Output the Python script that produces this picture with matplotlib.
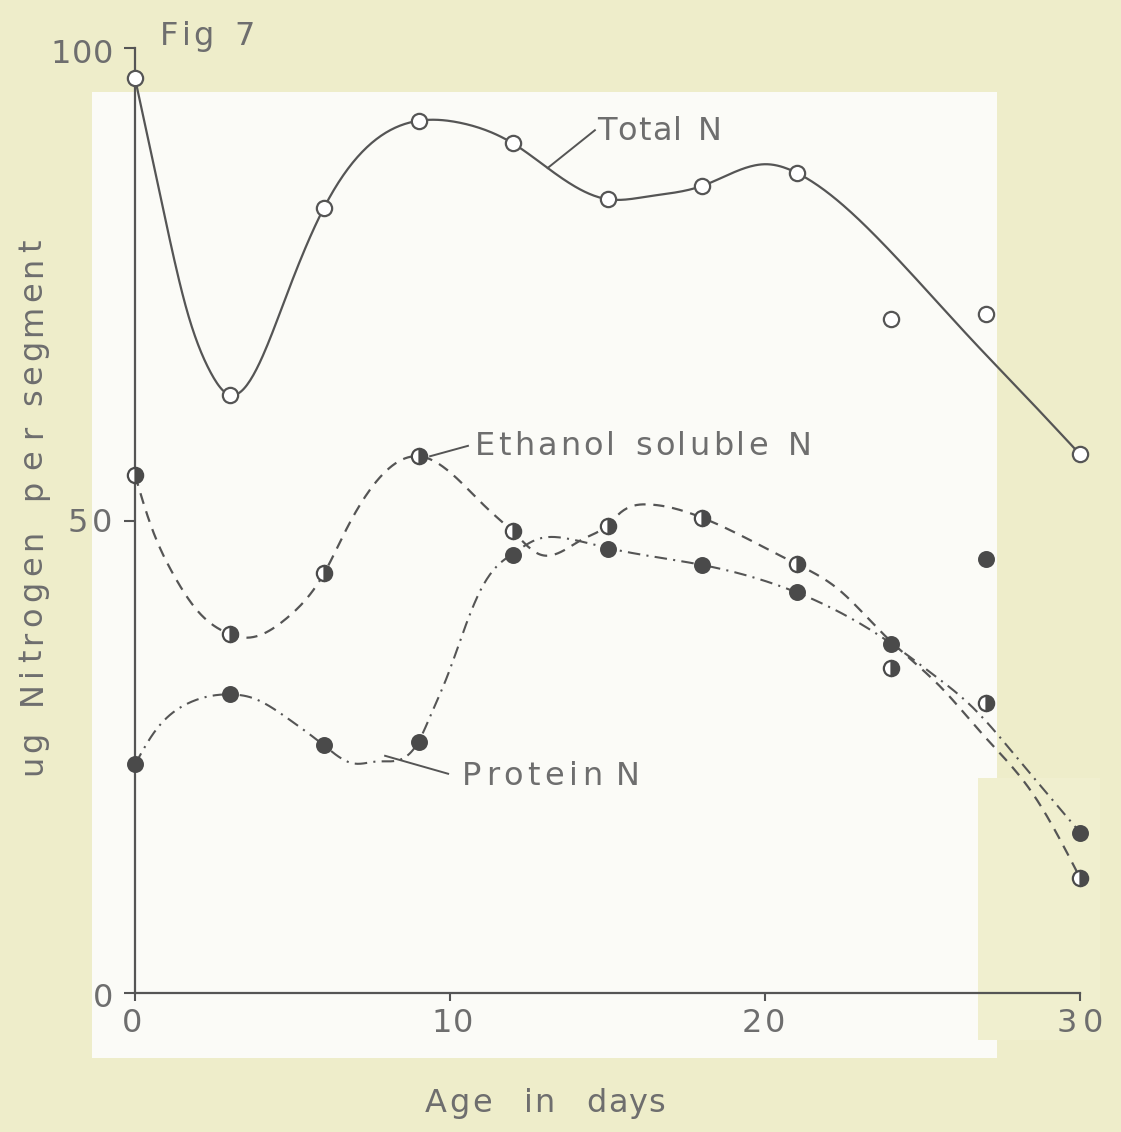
import numpy as np
import matplotlib
matplotlib.use("Agg")
from matplotlib import pyplot as plt
from matplotlib.patches import Rectangle

# ages at which samples were taken
ages = [0, 3, 6, 9, 12, 15, 18, 21, 24, 27, 30]

# measured points (ug N per segment)
total_n = [96.8, 63.3, 83.1, 92.3, 89.9, 84.0, 85.4, 86.8, 71.3, 71.9, 57.0]
ethanol_n = [54.8, 38.0, 44.4, 56.8, 48.9, 49.4, 50.3, 45.4, 34.4, 30.7, 12.2]
protein_n = [24.2, 31.6, 26.2, 26.6, 46.4, 47.0, 45.3, 42.4, 36.9, 45.9, 16.9]

# hand drawn curves
total_curve_x = [0, 0.57, 1.02, 1.65, 2.38, 3, 3.87, 4.83, 6, 7.24, 9, 10.3, 12,
                 13.1, 15, 16.3, 18, 20.06, 21, 23.6, 26.6, 28.2, 30]
total_curve_y = [96.8, 88.0, 81.0, 72.2, 65.8, 63.3, 66.1, 74.0, 83.1, 89.1, 92.3,
                 92.1, 89.9, 87.3, 84.0, 84.3, 85.4, 87.7, 86.8, 79.8, 69.0, 63.4, 57.0]

ethanol_curve_x = [0, 0.48, 1.2, 1.97, 3, 3.56, 4.83, 6, 6.73, 7.68, 9, 10.3, 11.27,
                   12, 12.86, 13.7, 14.2, 15, 15.4, 16.3, 18, 19.6, 21, 22.3, 23.75,
                   24.8, 25.6, 26.9, 28.5, 30]
ethanol_curve_y = [54.8, 49.7, 44.4, 40.5, 38.0, 37.6, 39.7, 44.4, 49.2, 54.2, 56.8,
                   54.2, 51.0, 48.8, 46.4, 47.0, 48.0, 49.5, 50.8, 51.7, 50.3, 47.8,
                   45.4, 42.8, 38.0, 34.8, 32.3, 27.4, 21.1, 12.2]

protein_curve_x = [0, 0.57, 1.65, 3, 3.75, 4.83, 6, 6.92, 7.68, 9, 9.4, 9.9, 10.4,
                   10.95, 11.5, 12, 12.76, 13.7, 15, 18, 21, 22.7, 24, 25.3, 26.6,
                   28.0, 30]
protein_curve_y = [24.2, 27.4, 30.6, 31.6, 31.2, 29.1, 26.2, 24.3, 24.5, 26.6, 29.5,
                   33.4, 38.0, 42.5, 45.2, 46.5, 48.0, 48.1, 47.1, 45.3, 42.4, 39.7,
                   37.0, 33.8, 30.2, 24.9, 17.0]

W, H = 1121, 1132
ink = '#555555'
text_col = '#6e6e6e'
font = 'DejaVu Sans'

fig = plt.figure(figsize=(W / 100, H / 100), dpi=100, facecolor='#eeedca')
renderer = fig.canvas.get_renderer()


def spline(xs, ys, n=600):
    # natural cubic spline through the knots
    x = np.asarray(xs, float)
    y = np.asarray(ys, float)
    m = len(x)
    h = np.diff(x)
    A = np.zeros((m, m))
    r = np.zeros(m)
    A[0, 0] = A[-1, -1] = 1
    for i in range(1, m - 1):
        A[i, i - 1] = h[i - 1]
        A[i, i] = 2 * (h[i - 1] + h[i])
        A[i, i + 1] = h[i]
        r[i] = 3 * ((y[i + 1] - y[i]) / h[i] - (y[i] - y[i - 1]) / h[i - 1])
    c = np.linalg.solve(A, r)
    b = (y[1:] - y[:-1]) / h - h * (2 * c[:-1] + c[1:]) / 3
    d = (c[1:] - c[:-1]) / (3 * h)
    xx = np.linspace(x[0], x[-1], n)
    k = np.clip(np.searchsorted(x, xx, side='right') - 1, 0, m - 2)
    t = xx - x[k]
    return xx, y[k] + b[k] * t + c[k] * t ** 2 + d[k] * t ** 3


def lettering(s, x0, x1, base, fs=23, vertical=False, space=0.45):
    # spread the characters between x0 and x1 (pixels), like stencil lettering
    widths = []
    for ch in s:
        if ch == ' ':
            widths.append(fs * space * 100 / 72)
            continue
        t = fig.text(0, 0, ch, fontsize=fs, family=font)
        widths.append(t.get_window_extent(renderer).width)
        t.remove()
    span = abs(x1 - x0)
    gap = (span - sum(widths)) / max(len(s) - 1, 1)
    start = 0.0
    if gap < 1:
        # too tight: keep a small gap and centre on the span instead
        gap = 1.0
        start = (span - sum(widths) - gap * (len(s) - 1)) / 2
    pos = start
    for ch, w in zip(s, widths):
        if ch != ' ':
            if vertical:
                xy = (base / W, 1 - (x0 - pos) / H)
                fig.text(*xy, ch, fontsize=fs, family=font, color=text_col,
                         ha='left', va='baseline', rotation=90, rotation_mode='anchor')
            else:
                xy = ((x0 + pos) / W, 1 - base / H)
                fig.text(*xy, ch, fontsize=fs, family=font, color=text_col,
                         ha='left', va='baseline')
        pos += w + gap


# paper patches behind the chart
fig.add_artist(Rectangle((92 / W, 1 - 1058 / H), (997 - 92) / W, (1058 - 92) / H,
                         transform=fig.transFigure, facecolor='#fbfbf7',
                         edgecolor='none', zorder=0))
fig.add_artist(Rectangle((978 / W, 1 - 1040 / H), (1100 - 978) / W, (1040 - 778) / H,
                         transform=fig.transFigure, facecolor='#f0efcf',
                         edgecolor='none', zorder=0))

ax = fig.add_axes([135 / W, 1 - 993 / H, (1080 - 135) / W, (993 - 48) / H])
ax.set_facecolor('none')
ax.set_xlim(0, 30)
ax.set_ylim(0, 100)

for side in ['top', 'right']:
    ax.spines[side].set_visible(False)
for side in ['left', 'bottom']:
    ax.spines[side].set_color(ink)
    ax.spines[side].set_linewidth(1.6)

ax.set_xticks([0, 10, 20, 30])
ax.set_yticks([0, 50, 100])
ax.set_xticklabels([])
ax.set_yticklabels([])
ax.tick_params(axis='x', direction='out', length=6, width=1.5, color=ink)
ax.tick_params(axis='y', direction='out', length=8, width=1.5, color=ink)

# curves
cx, cy = spline(total_curve_x, total_curve_y)
ax.plot(cx, cy, color=ink, lw=1.6, zorder=2, clip_on=False)
cx, cy = spline(ethanol_curve_x, ethanol_curve_y)
ax.plot(cx, cy, color=ink, lw=1.6, ls=(0, (5, 3.5)), zorder=2, clip_on=False)
cx, cy = spline(protein_curve_x, protein_curve_y)
ax.plot(cx, cy, color=ink, lw=1.5, ls=(0, (6, 3, 1, 3)), zorder=2, clip_on=False)

# points
ax.plot(ages, total_n, 'o', ms=11, mfc='white', mec=ink, mew=1.6, zorder=4, clip_on=False)
ax.plot(ages, ethanol_n, 'o', ms=11, fillstyle='right', mfc='#4a4a4a', mfcalt='white',
        mec='#4a4a4a', mew=1.6, zorder=4, clip_on=False)
ax.plot(ages, protein_n, 'o', ms=11, mfc='#4a4a4a', mec='#4a4a4a', mew=1.2, zorder=4,
        clip_on=False)

# leader lines to the curve names
ax.plot([13.1, 14.6], [87.3, 91.3], color=ink, lw=1.4, zorder=3)
ax.plot([9.37, 10.57], [56.8, 57.9], color=ink, lw=1.4, zorder=3)
ax.plot([7.94, 9.94], [25.1, 23.2], color=ink, lw=1.4, zorder=3)

lettering('Total N', 597, 722, 140)
lettering('Ethanol soluble N', 475, 812, 455)
lettering('Protein N', 462, 640, 785, space=0.15)
lettering('Fig 7', 160, 255, 45)

# tick labels (hand lettered)
ytick_labels = ['100', '50', '0']
for lab, x0, x1, base in zip(ytick_labels, [52, 68, 94], [112, 112, 113], [63, 532, 1007]):
    lettering(lab, x0, x1, base)
xtick_labels = ['0', '10', '20', '30']
for lab, x0, x1 in zip(xtick_labels, [122, 435, 742, 1057], [143, 470, 785, 1103]):
    lettering(lab, x0, x1, 1032)

# axis titles
for word, x0, x1 in [('Age', 425, 492), ('in', 525, 553), ('days', 590, 662)]:
    lettering(word, x0, x1, 1112)
for word, y0, y1 in [('ug', 775, 732), ('Nitrogen', 705, 530), ('per', 500, 425),
                     ('segment', 405, 240)]:
    lettering(word, y0, y1, 41, vertical=True)

fig.savefig('out.png', dpi=100, facecolor=fig.get_facecolor())
